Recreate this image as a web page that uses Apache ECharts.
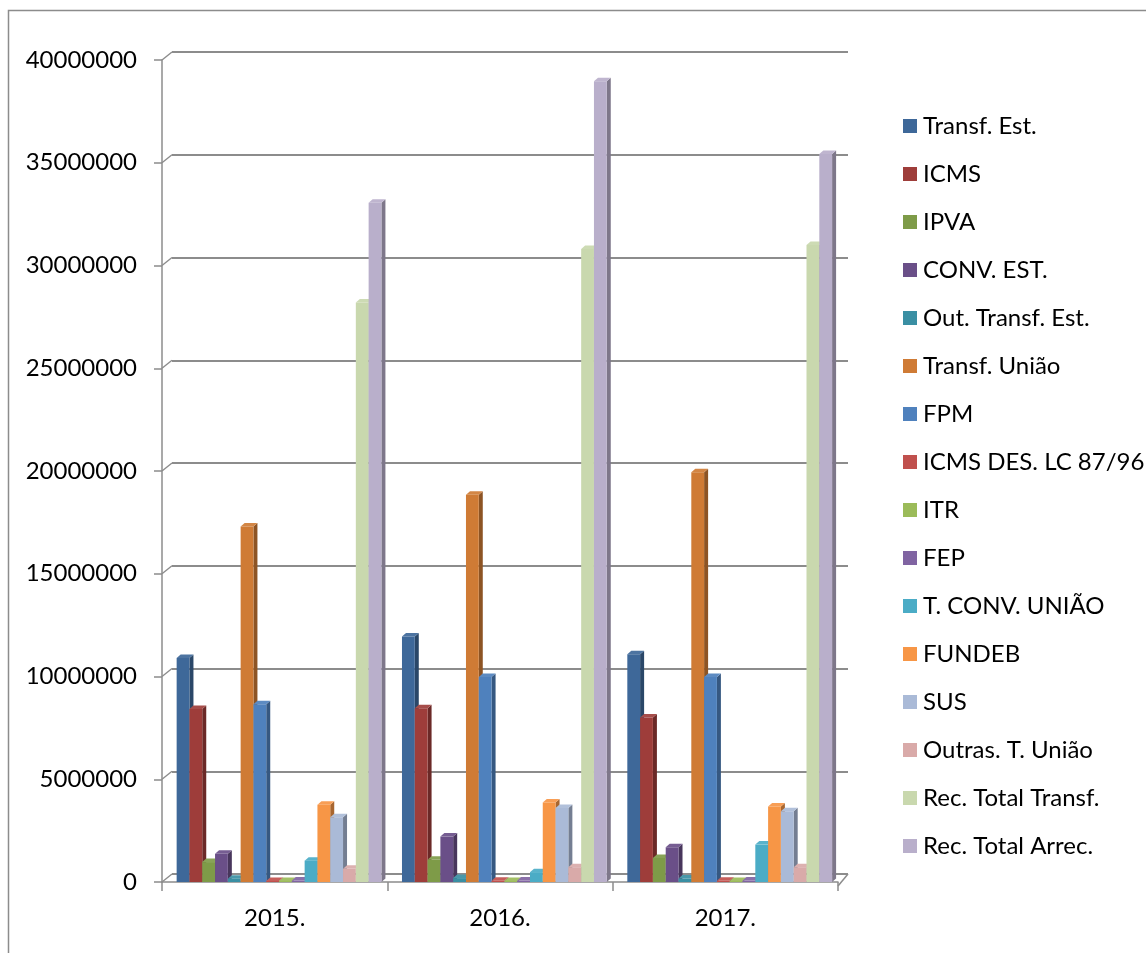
<!DOCTYPE html>
<html>
<head>
<meta charset="utf-8">
<script src="https://cdn.jsdelivr.net/npm/echarts@6/dist/echarts.min.js"></script>
<style>
  html, body { margin: 0; padding: 0; background: #ffffff; }
  #chart { width: 1146px; height: 953px; }
</style>
</head>
<body>
<div id="chart"></div>
<script>
// Receitas municipais por ano (R$)
const categories = ['2015.', '2016.', '2017.'];
const yTicks = [0, 5000000, 10000000, 15000000, 20000000, 25000000, 30000000, 35000000, 40000000];

const transfEst      = [10900000, 11950000, 11080000];
const icms           = [8420000, 8460000, 8000000];
const ipva           = [970000, 1080000, 1170000];
const convEst        = [1370000, 2210000, 1690000];
const outTransfEst   = [160000, 190000, 170000];
const transfUniao    = [17300000, 18850000, 19940000];
const fpm            = [8650000, 9980000, 9980000];
const icmsDes        = [50000, 60000, 60000];
const itr            = [50000, 50000, 50000];
const fep            = [70000, 70000, 70000];
const tConvUniao     = [1040000, 480000, 1820000];
const fundeb         = [3760000, 3870000, 3670000];
const sus            = [3150000, 3600000, 3440000];
const outrasUniao    = [640000, 720000, 720000];
const recTotalTransf = [28200000, 30800000, 31000000];
const recTotalArrec  = [33050000, 38960000, 35430000];

const seriesNames = [
  'Transf. Est.', 'ICMS', 'IPVA', 'CONV. EST.', 'Out. Transf. Est.', 'Transf. União',
  'FPM', 'ICMS DES. LC 87/96', 'ITR', 'FEP', 'T. CONV. UNIÃO', 'FUNDEB', 'SUS',
  'Outras. T. União', 'Rec. Total Transf.', 'Rec. Total Arrec.'
];
const seriesValues = [
  transfEst, icms, ipva, convEst, outTransfEst, transfUniao,
  fpm, icmsDes, itr, fep, tConvUniao, fundeb, sus,
  outrasUniao, recTotalTransf, recTotalArrec
];
const seriesColors = [
  '#3E6899', '#9E3D3A', '#7E9B48', '#6A4F88', '#3A8FA3', '#CF7B35',
  '#4F81BD', '#C0504D', '#9BBB59', '#8064A2', '#4BACC6', '#F79646', '#AABAD7',
  '#D9AAA9', '#C9D8AE', '#B9AFCB'
];

const FONT = 'Lato';
const FONT_SIZE = 24;
const GRAY = '#8c8c8c';
const WALL = { dx: 10, dy: -8 };      // depth of the floor / back wall
const BAR3D = { dx: 4, dy: -3.5 };    // depth of each column

function mix(hex, target, t) {
  const n = parseInt(hex.slice(1), 16);
  const r = (n >> 16) & 255, g = (n >> 8) & 255, b = n & 255;
  const m = v => Math.round(v + (target - v) * t);
  return 'rgb(' + m(r) + ',' + m(g) + ',' + m(b) + ')';
}

function columnRenderer(k) {
  const color = seriesColors[k];
  const side = mix(color, 0, 0.32);
  const topFace = mix(color, 255, 0.08);
  return function (params, api) {
    const cat = api.value(0);
    const val = api.value(1);
    const top = api.coord([cat, val]);
    const base = api.coord([cat, 0]);
    const band = api.size([1, 0])[0];
    const w = band * 0.0568;
    const x = top[0] - band / 2 + band * 0.065 + k * w;
    const yt = top[1], yb = base[1];
    return {
      type: 'group',
      children: [
        { type: 'polygon', shape: { points: [[x + w, yt], [x + w + BAR3D.dx, yt + BAR3D.dy], [x + w + BAR3D.dx, yb + BAR3D.dy], [x + w, yb]] },
          style: { fill: side } },
        { type: 'polygon', shape: { points: [[x, yt], [x + BAR3D.dx, yt + BAR3D.dy], [x + w + BAR3D.dx, yt + BAR3D.dy], [x + w, yt]] },
          style: { fill: topFace } },
        { type: 'rect', shape: { x: x, y: yt, width: w, height: yb - yt },
          style: { fill: color } }
      ]
    };
  };
}

// Diagonal edges joining the front axis to the back wall, plus the floor's right edge
function wallEdgeRenderer(params, api) {
  const v = api.value(0);
  const y = api.coord([0, v])[1];
  const cs = params.coordSys;
  const lines = [
    { type: 'line', shape: { x1: cs.x, y1: y, x2: cs.x + WALL.dx, y2: y + WALL.dy },
      style: { stroke: GRAY, lineWidth: 1.5 } }
  ];
  if (v === 0) {
    const xr = cs.x + cs.width;
    lines.push({ type: 'line', shape: { x1: xr, y1: y + 4, x2: xr + WALL.dx, y2: y + WALL.dy },
      style: { stroke: GRAY, lineWidth: 1.5 } });
  }
  return { type: 'group', children: lines };
}

const columnSeries = seriesNames.map((name, k) => ({
  name: name,
  type: 'custom',
  xAxisIndex: 0,
  yAxisIndex: 0,
  renderItem: columnRenderer(k),
  itemStyle: { color: seriesColors[k] },
  encode: { x: 0, y: 1 },
  data: seriesValues[k].map((v, i) => [i, v]),
  z: 3
}));

const chart = echarts.init(document.getElementById('chart'), null, { renderer: 'canvas' });
chart.setOption({
  animation: false,
  backgroundColor: '#ffffff',
  textStyle: { fontFamily: FONT },
  graphic: [{
    type: 'rect',
    shape: { x: 8.5, y: 10.5, width: 1200, height: 1000 },
    style: { fill: 'none', stroke: GRAY, lineWidth: 1.5 },
    silent: true
  }],
  grid: [
    { left: 162, right: 308, top: 60, bottom: 71 },
    { left: 172, right: 298, top: 52, bottom: 79 }
  ],
  legend: {
    orient: 'vertical',
    left: 898,
    top: 108,
    itemWidth: 14,
    itemHeight: 14,
    itemGap: 22,
    icon: 'rect',
    data: seriesNames,
    textStyle: { fontFamily: FONT, fontSize: FONT_SIZE, color: '#000000', lineHeight: 26, padding: [0, 0, 0, 1] }
  },
  xAxis: [
    {
      type: 'category',
      gridIndex: 0,
      data: categories,
      offset: 4,
      boundaryGap: true,
      axisLine: { show: true, lineStyle: { color: GRAY, width: 1.5 } },
      axisTick: { show: true, length: 9, lineStyle: { color: GRAY, width: 1.5 } },
      axisLabel: { fontFamily: FONT, fontSize: FONT_SIZE, color: '#000000', margin: 20 },
      splitLine: { show: false }
    },
    {
      type: 'category',
      gridIndex: 1,
      data: categories,
      show: false
    }
  ],
  yAxis: [
    {
      type: 'value',
      gridIndex: 0,
      min: 0,
      max: 40000000,
      interval: 5000000,
      axisLine: { show: true, lineStyle: { color: GRAY, width: 1.5 } },
      axisTick: { show: true, length: 8, lineStyle: { color: GRAY, width: 1.5 } },
      axisLabel: { fontFamily: FONT, fontSize: FONT_SIZE, color: '#000000', margin: 25,
                   formatter: v => String(v) },
      splitLine: { show: false }
    },
    {
      type: 'value',
      gridIndex: 1,
      min: 0,
      max: 40000000,
      interval: 5000000,
      axisLine: { show: false },
      axisTick: { show: false },
      axisLabel: { show: false },
      splitLine: { show: true, lineStyle: { color: GRAY, width: 2 } }
    }
  ],
  series: [
    {
      name: 'wall-edges',
      type: 'custom',
      xAxisIndex: 0,
      yAxisIndex: 0,
      renderItem: wallEdgeRenderer,
      encode: { y: 0 },
      data: yTicks.map(v => [v]),
      silent: true,
      z: 1
    }
  ].concat(columnSeries)
});
</script>
</body>
</html>
